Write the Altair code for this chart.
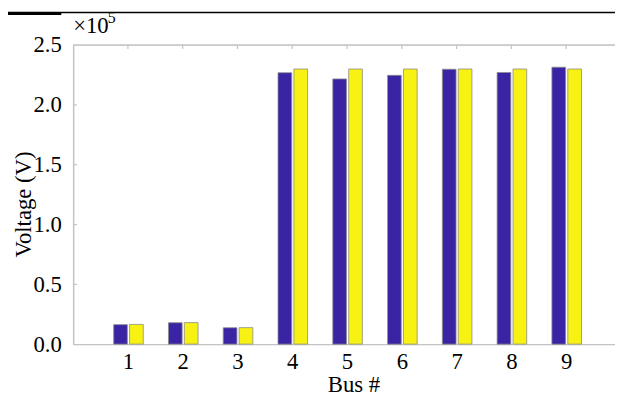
import altair as alt
import pandas as pd

buses = [1, 2, 3, 4, 5, 6, 7, 8, 9]
measured = [16300, 17900, 13700, 226900, 221700, 224700, 229800, 227100, 231500]
rated = [16500, 18000, 13800, 230000, 230000, 230000, 230000, 230000, 230000]
y_ticks = [0, 50000, 100000, 150000, 200000, 250000]
series_names = ["Measured", "Rated"]
colors = ["#3a24a4", "#f7f212"]

W, H = 549, 303
FONT = "Liberation Serif, Times New Roman, serif"
FS = 23
GREY = "#c4c4c4"

rows = []
for b, v in zip(buses, measured):
    rows.append({"bus": b, "value": v, "series": series_names[0]})
for b, v in zip(buses, rated):
    rows.append({"bus": b, "value": v, "series": series_names[1]})
df = pd.DataFrame(rows)

xscale = alt.Scale(domain=[0, W / 55.5], nice=False, zero=False)
yscale = alt.Scale(domain=[0, 250000], nice=False)

xaxis = alt.Axis(values=buses, ticks=False, tickSize=0, grid=False, labelFont=FONT,
                 labelFontSize=FS, labelColor="black", labelPadding=7,
                 domainColor=GREY, domainWidth=1.5, title="Bus #", titleFont=FONT,
                 titleFontSize=FS, titleFontWeight="normal", titleColor="black",
                 titleX=284, titleY=48, titleBaseline="alphabetic", titleAnchor="middle")
yaxis = alt.Axis(values=y_ticks, ticks=False, tickSize=0, grid=False, labelFont=FONT,
                 labelFontSize=FS, labelColor="black", labelPadding=12,
                 labelExpr="format(datum.value/100000, '.1f')",
                 domainColor=GREY, domainWidth=1.5, title="Voltage (V)", titleFont=FONT,
                 titleFontSize=FS, titleFontWeight="normal", titleColor="black",
                 titleX=-43, titleY=161, titleBaseline="alphabetic", titleAnchor="middle")

bars = alt.Chart(df).transform_calculate(
    x0="datum.bus + (datum.series == 'Measured' ? -0.26 : 0.03)",
    x1="datum.bus + (datum.series == 'Measured' ? -0.01 : 0.28)",
).mark_bar(stroke="#8c8c8c", strokeWidth=0.8).encode(
    x=alt.X("x0:Q", scale=xscale, axis=xaxis),
    x2="x1:Q",
    y=alt.Y("value:Q", scale=yscale, axis=yaxis),
    y2=alt.value(H),
    color=alt.Color("series:N", scale=alt.Scale(domain=series_names, range=colors), legend=None),
)

top_frame = alt.Chart(pd.DataFrame({"a": [0]})).mark_rule(color=GREY, strokeWidth=1.5).encode(
    x=alt.value(0), x2=alt.value(W), y=alt.value(0))

top_ticks = alt.Chart(pd.DataFrame({"bus": buses})).mark_rule(color=GREY, strokeWidth=1.2).encode(
    x=alt.X("bus:Q", scale=xscale, axis=xaxis), y=alt.value(0), y2=alt.value(4))

left_ticks = alt.Chart(pd.DataFrame({"value": y_ticks[1:-1]})).mark_rule(color=GREY, strokeWidth=1.2).encode(
    y=alt.Y("value:Q", scale=yscale, axis=yaxis), x=alt.value(0), x2=alt.value(4))

header = alt.Chart(pd.DataFrame({"a": [0]})).mark_rule(color="black", strokeWidth=1.3).encode(
    x=alt.value(-66), x2=alt.value(W), y=alt.value(-33))
header_thick = alt.Chart(pd.DataFrame({"a": [0]})).mark_rule(color="black", strokeWidth=3).encode(
    x=alt.value(-66), x2=alt.value(-12), y=alt.value(-32))

exp_base = alt.Chart(pd.DataFrame({"t": ["×10"]})).mark_text(
    font=FONT, fontSize=FS, align="left", baseline="alphabetic", color="black").encode(
    text="t:N", x=alt.value(0), y=alt.value(-12))
exp_sup = alt.Chart(pd.DataFrame({"t": ["5"]})).mark_text(
    font=FONT, fontSize=16, align="left", baseline="alphabetic", color="black").encode(
    text="t:N", x=alt.value(35), y=alt.value(-22))

chart = alt.layer(bars, top_frame, top_ticks, left_ticks, header, header_thick, exp_base, exp_sup).properties(
    width=W, height=H,
    autosize=alt.AutoSizeParams(type="none"),
    padding={"left": 66, "top": 35, "right": 0, "bottom": 52},
).configure_view(stroke=None).configure(background="white")

chart.save("out.html", embed_options={"renderer": "svg", "actions": False})
